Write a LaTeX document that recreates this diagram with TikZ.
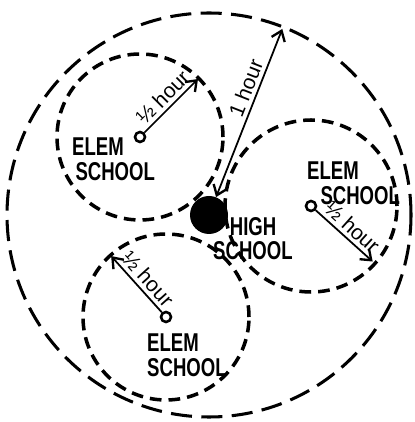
\documentclass[tikz,border=0pt]{standalone}
\usepackage{fontspec}
\setsansfont{Liberation Sans}
\newfontfamily\handfont[FakeStretch=0.72]{Liberation Sans}
\usetikzlibrary{arrows.meta}

\begin{document}
\begin{tikzpicture}[
    x=0.03cm, y=0.03cm,
    every node/.style={inner sep=0pt},
    zone/.style={draw, line width=3pt, dash pattern=on 10pt off 6pt},
    reach/.style={draw, line width=2.6pt, dash pattern=on 18pt off 8pt},
    school/.style={circle, draw, line width=2.2pt, minimum size=0.3cm},
    highschool/.style={circle, fill, minimum size=1.14cm},
    lettering/.style={font=\handfont\bfseries\fontsize{22}{21}\selectfont,
        align=left, anchor=north west},
    spoke/.style={line width=1.5pt,
        -{Straight Barb[length=8pt, width=12pt, line width=2pt]}},
    bothspoke/.style={line width=1.5pt,
        {Straight Barb[length=8pt, width=12pt, line width=2pt]}-{Straight Barb[length=8pt, width=12pt, line width=2pt]}},
    timelabel/.style={font=\sffamily\fontsize{18}{18}\selectfont, sloped, above=3pt}
  ]
  \useasboundingbox (0,0) rectangle (414,422);

  % schools
  \node[highschool] (hs) at (209,207) {};
  \node[school] (ulc) at (140,285) {};
  \node[school] (rc) at (311,216) {};
  \node[school] (lc) at (166,105) {};

  % half hour and one hour zones
  \draw[reach] (hs) circle (202);
  \draw[zone] (ulc) circle (83);
  \draw[zone] (rc) circle (86);
  \draw[zone] (lc) circle (83);

  % ends of the radii
  \path (ulc) ++(45:82) coordinate (ult);
  \path (rc) ++(-42:83) coordinate (rt);
  \path (lc) ++(132:82) coordinate (lt);
  \path (hs) ++(68.5:200) coordinate (ot);

  \draw[spoke] (ulc) -- (ult) node[timelabel, midway] {½ hour};
  \draw[spoke] (rc) -- (rt) node[timelabel, midway] {½ hour};
  \draw[spoke] (lc) -- (lt) node[timelabel, pos=0.45] {½ hour};
  \draw[bothspoke] (hs) -- (ot) node[timelabel, pos=0.62] {1 hour};

  % names
  \node[lettering] (ulname) at (72,284) {ELEM\\\hspace*{0.1cm}SCHOOL};
  \node[lettering] (rname) at (307,260) {ELEM\\\hspace*{0.4cm}SCHOOL};
  \node[lettering] (lname) at (147,88) {ELEM\\SCHOOL};
  \node[lettering] (hsname) at (213,205) {\hspace*{0.5cm}HIGH\\SCHOOL};
\end{tikzpicture}
\end{document}
